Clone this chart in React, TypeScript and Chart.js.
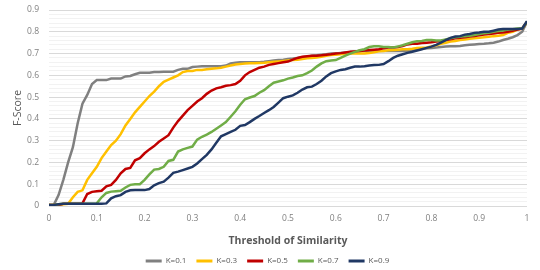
import React, { useEffect, useRef } from "react";
import { Chart, registerables } from "chart.js";

Chart.register(...registerables);

const thresholds = [
  0.0, 0.01, 0.02, 0.03, 0.04, 0.05, 0.06, 0.07, 0.08, 0.09,
  0.1, 0.11, 0.12, 0.13, 0.14, 0.15, 0.16, 0.17, 0.18, 0.19,
  0.2, 0.21, 0.22, 0.23, 0.24, 0.25, 0.26, 0.27, 0.28, 0.29,
  0.3, 0.31, 0.32, 0.33, 0.34, 0.35, 0.36, 0.37, 0.38, 0.39,
  0.4, 0.41, 0.42, 0.43, 0.44, 0.45, 0.46, 0.47, 0.48, 0.49,
  0.5, 0.51, 0.52, 0.53, 0.54, 0.55, 0.56, 0.57, 0.58, 0.59,
  0.6, 0.61, 0.62, 0.63, 0.64, 0.65, 0.66, 0.67, 0.68, 0.69,
  0.7, 0.71, 0.72, 0.73, 0.74, 0.75, 0.76, 0.77, 0.78, 0.79,
  0.8, 0.81, 0.82, 0.83, 0.84, 0.85, 0.86, 0.87, 0.88, 0.89,
  0.9, 0.91, 0.92, 0.93, 0.94, 0.95, 0.96, 0.97, 0.98, 0.99,
  1.0,
];

const k01 = [
  0.005, 0.005, 0.05, 0.12, 0.2, 0.27, 0.38, 0.47, 0.51, 0.56,
  0.578, 0.578, 0.578, 0.585, 0.585, 0.585, 0.595, 0.597, 0.605, 0.612,
  0.612, 0.612, 0.615, 0.615, 0.617, 0.617, 0.617, 0.625, 0.63, 0.63,
  0.638, 0.64, 0.642, 0.642, 0.642, 0.642, 0.642, 0.645, 0.655, 0.658,
  0.66, 0.66, 0.66, 0.66, 0.66, 0.662, 0.665, 0.668, 0.67, 0.672,
  0.675, 0.677, 0.68, 0.683, 0.685, 0.69, 0.692, 0.695, 0.697, 0.7,
  0.7, 0.703, 0.705, 0.707, 0.71, 0.712, 0.712, 0.712, 0.712, 0.712,
  0.712, 0.712, 0.712, 0.712, 0.712, 0.712, 0.718, 0.72, 0.722, 0.724,
  0.725, 0.728, 0.73, 0.732, 0.733, 0.734, 0.735, 0.738, 0.74, 0.742,
  0.744, 0.745, 0.747, 0.75, 0.755, 0.762, 0.768, 0.775, 0.785, 0.8,
  0.845,
];

const k03 = [
  0.005, 0.005, 0.005, 0.008, 0.01, 0.04, 0.065, 0.072, 0.12, 0.15,
  0.18, 0.22, 0.25, 0.28, 0.3, 0.33, 0.37, 0.4, 0.43, 0.455,
  0.48, 0.505, 0.525, 0.55, 0.57, 0.58, 0.59, 0.6, 0.615, 0.62,
  0.62, 0.625, 0.625, 0.628, 0.63, 0.632, 0.635, 0.64, 0.645, 0.65,
  0.652, 0.654, 0.655, 0.656, 0.657, 0.658, 0.66, 0.662, 0.664, 0.666,
  0.668, 0.67, 0.672, 0.675, 0.678, 0.68, 0.682, 0.685, 0.69, 0.693,
  0.695, 0.697, 0.7, 0.7, 0.7, 0.7, 0.7, 0.703, 0.706, 0.71,
  0.712, 0.715, 0.716, 0.718, 0.72, 0.72, 0.722, 0.725, 0.727, 0.728,
  0.732, 0.738, 0.745, 0.75, 0.755, 0.758, 0.762, 0.765, 0.768, 0.77,
  0.772, 0.775, 0.777, 0.78, 0.782, 0.785, 0.795, 0.8, 0.81, 0.815,
  0.845,
];

const k05 = [
  0.005, 0.005, 0.005, 0.01, 0.01, 0.01, 0.01, 0.012, 0.055, 0.065,
  0.068, 0.07, 0.09, 0.097, 0.12, 0.15, 0.17, 0.175, 0.21, 0.22,
  0.242, 0.26, 0.275, 0.295, 0.31, 0.325, 0.36, 0.39, 0.415, 0.44,
  0.46, 0.48, 0.495, 0.515, 0.53, 0.54, 0.545, 0.552, 0.555, 0.56,
  0.575, 0.6, 0.615, 0.625, 0.635, 0.64, 0.648, 0.652, 0.656, 0.66,
  0.663, 0.672, 0.68, 0.685, 0.688, 0.69, 0.69, 0.692, 0.695, 0.697,
  0.7, 0.702, 0.705, 0.708, 0.71, 0.712, 0.714, 0.716, 0.718, 0.72,
  0.724, 0.728, 0.728, 0.73, 0.735, 0.742, 0.745, 0.745, 0.748, 0.75,
  0.752, 0.755, 0.758, 0.762, 0.766, 0.77, 0.772, 0.775, 0.778, 0.78,
  0.784, 0.787, 0.79, 0.792, 0.795, 0.797, 0.8, 0.805, 0.81, 0.815,
  0.845,
];

const k07 = [
  0.005, 0.005, 0.008, 0.01, 0.01, 0.01, 0.01, 0.01, 0.01, 0.01,
  0.012, 0.04, 0.06, 0.066, 0.068, 0.07, 0.085, 0.097, 0.1, 0.1,
  0.12, 0.145, 0.167, 0.17, 0.18, 0.207, 0.212, 0.25, 0.26, 0.267,
  0.273, 0.305, 0.318, 0.328, 0.34, 0.355, 0.37, 0.385, 0.41, 0.435,
  0.465, 0.49, 0.498, 0.505, 0.52, 0.532, 0.55, 0.566, 0.572, 0.577,
  0.585, 0.59, 0.597, 0.6, 0.61, 0.622, 0.64, 0.655, 0.665, 0.668,
  0.67, 0.68, 0.69, 0.7, 0.708, 0.715, 0.72, 0.73, 0.733, 0.733,
  0.73, 0.73, 0.728, 0.732, 0.738, 0.745, 0.752, 0.756, 0.758, 0.762,
  0.762, 0.76, 0.76, 0.765, 0.77, 0.775, 0.777, 0.78, 0.782, 0.785,
  0.79, 0.793, 0.795, 0.8, 0.803, 0.806, 0.81, 0.812, 0.815, 0.815,
  0.845,
];

const k09 = [
  0.005, 0.005, 0.008, 0.01, 0.01, 0.01, 0.01, 0.01, 0.01, 0.01,
  0.01, 0.01, 0.012, 0.035, 0.045, 0.05, 0.065, 0.072, 0.073, 0.073,
  0.073, 0.078, 0.095, 0.105, 0.112, 0.13, 0.152, 0.158, 0.165, 0.172,
  0.18, 0.195, 0.215, 0.235, 0.26, 0.29, 0.32, 0.33, 0.34, 0.35,
  0.368, 0.372, 0.385, 0.4, 0.413, 0.427, 0.44, 0.455, 0.475, 0.495,
  0.502, 0.508, 0.52, 0.535, 0.545, 0.548, 0.56, 0.575, 0.595, 0.61,
  0.618, 0.625, 0.628, 0.635, 0.64, 0.64, 0.642, 0.645, 0.647, 0.648,
  0.652, 0.665, 0.68, 0.69, 0.697, 0.703, 0.708, 0.714, 0.72, 0.726,
  0.732, 0.74, 0.75, 0.762, 0.772, 0.778, 0.78, 0.787, 0.79, 0.795,
  0.797, 0.8, 0.8, 0.805, 0.81, 0.813, 0.813, 0.813, 0.813, 0.815,
  0.849,
];

const seriesLabels = ["K=0.1", "K=0.3", "K=0.5", "K=0.7", "K=0.9"];
const seriesValues = [k01, k03, k05, k07, k09];
const seriesColors = ["#808080", "#ffc000", "#c00000", "#70ad47", "#203864"];

const FONT = "'Open Sans', 'Noto Sans', sans-serif";

const isMajor = (v: number) => Math.abs(v * 10 - Math.round(v * 10)) < 1e-6;

export default function App() {
  const canvasRef = useRef<HTMLCanvasElement | null>(null);

  useEffect(() => {
    document.body.style.margin = "0";
    const canvas = canvasRef.current;
    if (!canvas) return;
    const chart = new Chart(canvas, {
      type: "line",
      data: {
        datasets: seriesLabels.map((label, i) => ({
          label,
          data: thresholds.map((t, j) => ({ x: t, y: seriesValues[i][j] })),
          borderColor: seriesColors[i],
          backgroundColor: seriesColors[i],
          borderWidth: 2.5,
          pointRadius: 0,
          tension: 0,
          order: 5 - i,
        })),
      },
      options: {
        animation: false,
        responsive: true,
        maintainAspectRatio: false,
        layout: { padding: { left: 8, right: 13, top: 10, bottom: -5 } },
        plugins: {
          tooltip: { enabled: false },
          legend: {
            position: "bottom",
            labels: {
              boxWidth: 16,
              boxHeight: 3,
              padding: 10,
              color: "#595959",
              font: { family: FONT, size: 8 },
              sort: (a: any, b: any) => a.datasetIndex - b.datasetIndex,
              generateLabels: (c: any) =>
                (Chart.defaults.plugins.legend.labels as any)
                  .generateLabels(c)
                  .map((l: any) => ({ ...l, lineWidth: 0 })),
            },
          },
        },
        scales: {
          x: {
            type: "linear",
            min: 0,
            max: 1,
            afterFit: (scale: any) => {
              scale.height = 41;
            },
            grid: { display: false, drawTicks: false },
            border: { display: false },
            ticks: {
              stepSize: 0.1,
              color: "#808080",
              padding: 7,
              font: { family: FONT, size: 8.5 },
              callback: (v: any) => String(Number(Number(v).toFixed(1))),
            },
            title: {
              display: true,
              text: "Threshold of Similarity",
              color: "#595959",
              font: { family: FONT, size: 10.5, weight: "bold" },
              padding: { top: 4, bottom: 0 },
            },
          },
          y: {
            min: 0,
            max: 0.9,
            afterFit: (scale: any) => {
              scale.width = 41;
              scale.paddingTop = 0;
              scale.paddingBottom = 0;
            },
            border: { display: false },
            grid: {
              drawTicks: false,
              color: (ctx: any) => (isMajor(ctx.tick.value) ? "#d9d9d9" : "#f2f2f2"),
              lineWidth: 1,
            },
            ticks: {
              stepSize: 0.02,
              autoSkip: false,
              color: "#808080",
              padding: 10,
              font: { family: FONT, size: 8.5 },
              callback: (v: any) => {
                const n = Number(v);
                if (!isMajor(n)) return "";
                return n < 1e-9 ? "0" : n.toFixed(1);
              },
            },
            title: {
              display: true,
              text: "F-Score",
              color: "#595959",
              font: { family: FONT, size: 10.5 },
              padding: { top: 4, bottom: 0 },
            },
          },
        },
      },
    });
    return () => chart.destroy();
  }, []);

  return (
    <div style={{ position: "relative", width: 540, height: 270 }}>
      <canvas ref={canvasRef} />
    </div>
  );
}
